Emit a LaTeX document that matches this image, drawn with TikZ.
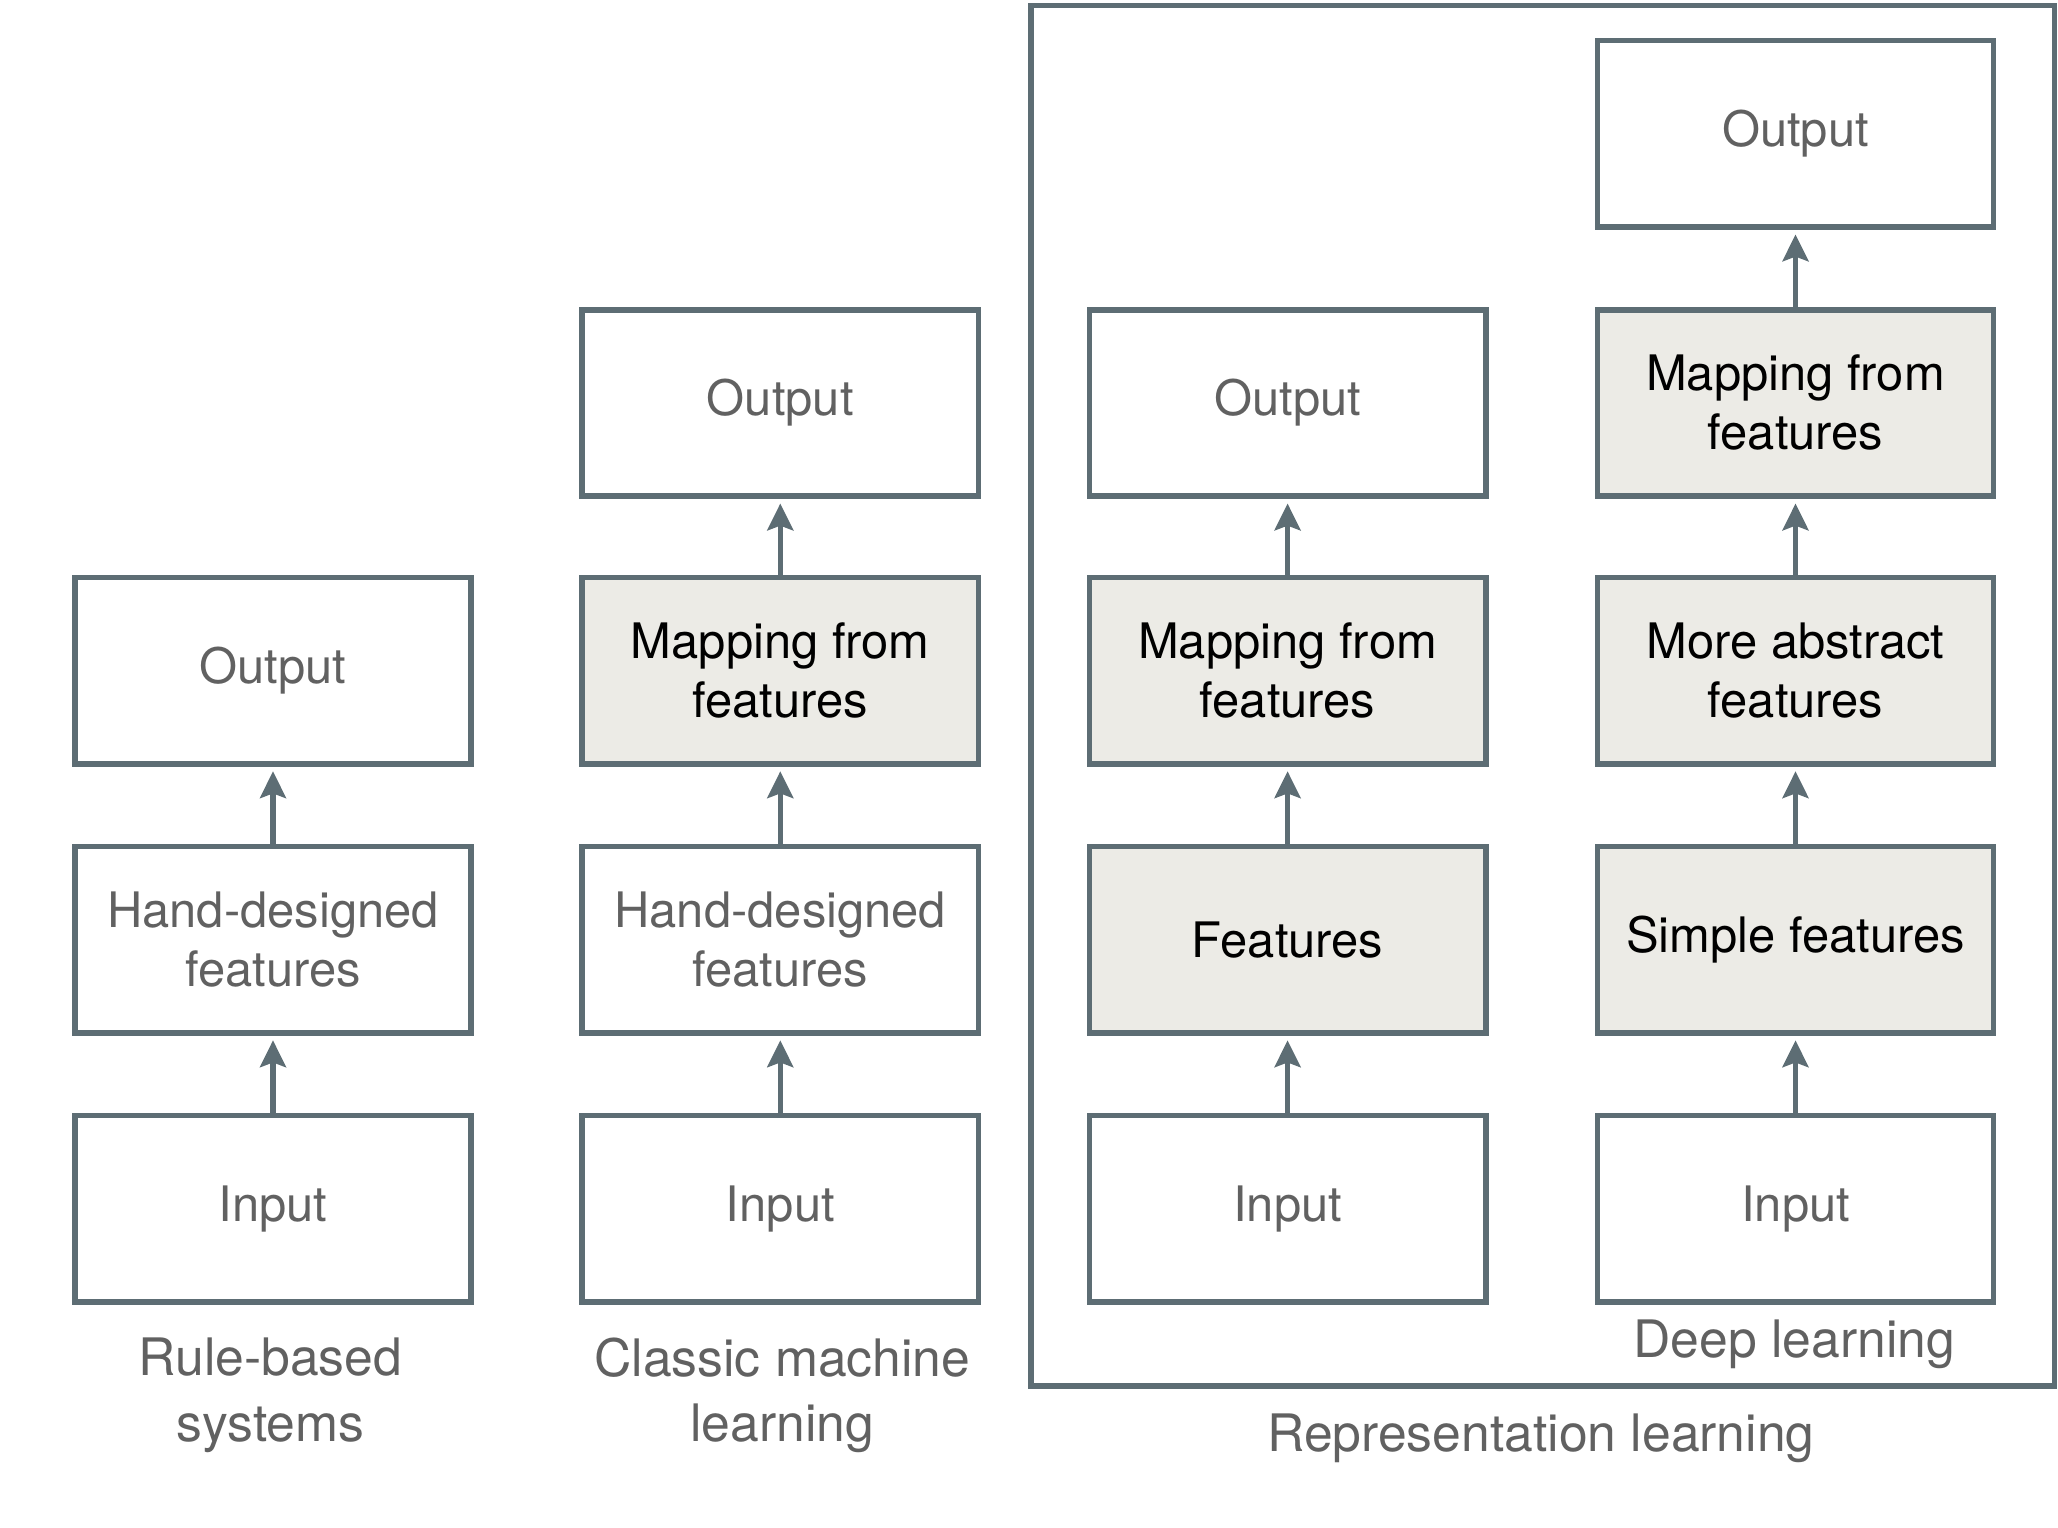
\documentclass[tikz,border=0pt]{standalone}
\usepackage{fontspec}
\setmainfont{TeX Gyre Heros}
\usepackage{tikz}
\usetikzlibrary{arrows.meta, positioning}
\definecolor{edgegray}{HTML}{5D6D74}
\definecolor{textgray}{HTML}{616161}
\definecolor{shade}{HTML}{ECEBE6}
\tikzset{
    -{Stealth[length=5.8pt,width=5.6pt,inset=1pt]}, semithick,
    box/.style ={rectangle, draw=edgegray, line width=1.2pt, minimum width=3.02cm,
                 minimum height=1.42cm, align=center, text=textgray,
                 font=\fontsize{10.6}{12.8}\selectfont},
    learned/.style ={box, fill=shade, text=black},
    caption/.style ={align=center, text=textgray, font=\fontsize{11.2}{14.2}\selectfont},
    frame/.style ={draw=edgegray, line width=1.1pt}
    }

\begin{document}
\begin{tikzpicture}[
      shorten > = 1pt, % tip stops at the outer edge of the box
      every edge/.style = {draw=edgegray, line width=1.15pt}
    ]
    \useasboundingbox (0,0) rectangle (15.68,-11.64);

    % rule-based systems
    \node[box] (1) at (2.08,-9.21) {Input};
    \node[box] (2) at (2.08,-7.16) {Hand-designed\\features};
    \node[box] (3) at (2.08,-5.11) {Output};

    % classic machine learning
    \node[box] (4) at (5.945,-9.21) {Input};
    \node[box] (5) at (5.945,-7.16) {Hand-designed\\features};
    \node[learned] (6) at (5.945,-5.11) {Mapping from\\features};
    \node[box] (7) at (5.945,-3.07) {Output};

    % representation learning
    \node[box] (8) at (9.81,-9.21) {Input};
    \node[learned] (9) at (9.81,-7.16) {Features};
    \node[learned] (10) at (9.81,-5.11) {Mapping from\\features};
    \node[box] (11) at (9.81,-3.07) {Output};

    % deep learning
    \node[box] (12) at (13.68,-9.21) {Input};
    \node[learned] (13) at (13.68,-7.16) {Simple features};
    \node[learned] (14) at (13.68,-5.11) {More abstract\\features};
    \node[learned] (15) at (13.68,-3.07) {Mapping from\\features};
    \node[box] (16) at (13.68,-1.02) {Output};

    \path (1) edge (2);
    \path (2) edge (3);
    \path (4) edge (5);
    \path (5) edge (6);
    \path (6) edge (7);
    \path (8) edge (9);
    \path (9) edge (10);
    \path (10) edge (11);
    \path (12) edge (13);
    \path (13) edge (14);
    \path (14) edge (15);
    \path (15) edge (16);

    \draw[frame, -] (7.855,-0.045) rectangle (15.65,-10.56);

    \node[caption] (rule) at (2.06,-10.63) {Rule-based\\systems};
    \node[caption] (classic) at (5.96,-10.63) {Classic machine\\learning};
    \node[caption] (deep) at (13.67,-10.24) {Deep learning};
    \node[caption] (repr) at (11.74,-10.96) {Representation learning};
\end{tikzpicture}
\end{document}
